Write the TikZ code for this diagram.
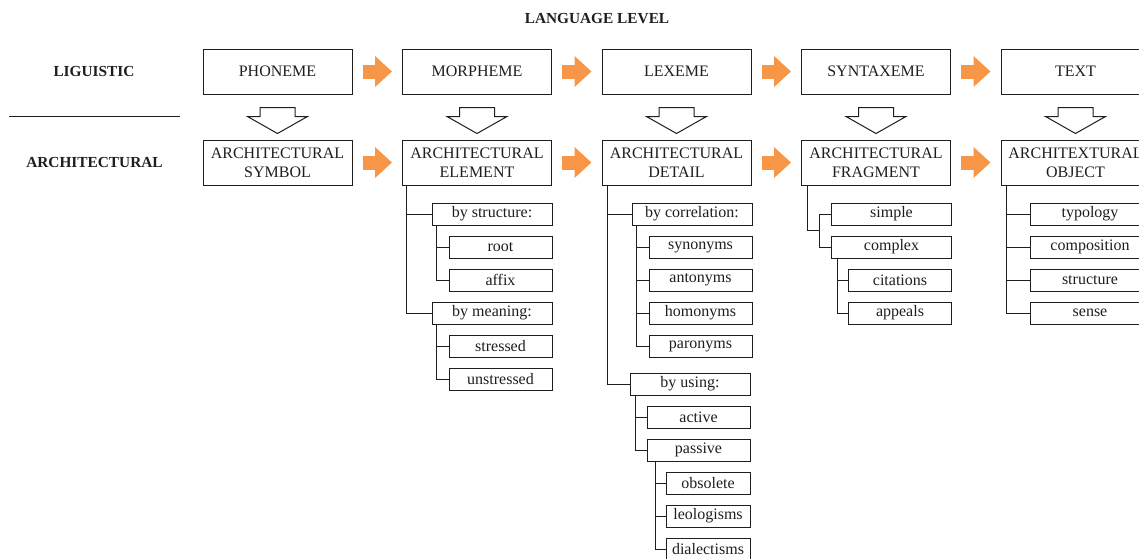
\documentclass[tikz,border=0pt]{standalone}
\usepackage{fontspec}
\setmainfont{Liberation Serif}
\usetikzlibrary{arrows.meta, positioning, calc}
\definecolor{orangeA}{RGB}{247,150,70}
\definecolor{inkA}{RGB}{30,30,30}

\begin{document}
\begin{tikzpicture}[
  x=0.75pt, y=-0.75pt,
  every node/.style={text=inkA, font=\fontsize{12}{14.5}\selectfont},
  lvl/.style={font=\fontsize{11.5}{13}\selectfont\bfseries},
  box/.style={rectangle, draw=inkA, line width=0.75pt, inner sep=0pt, align=center, minimum width=111.75pt, minimum height=33.75pt},
  grp/.style={rectangle, draw=inkA, line width=0.75pt, inner sep=0pt, minimum width=90pt, minimum height=16.5pt},
  item/.style={grp, minimum width=77.25pt},
  leaf/.style={grp, minimum width=63pt},
  tree/.style={draw=inkA, line width=0.75pt},
  flow/.style={draw=orangeA, line width=10.5pt, -{Triangle[length=12.75pt, width=22.5pt]}},
  hollow/.style={draw=inkA, line width=0.75pt, fill=white, line join=miter}
]
\useasboundingbox (0,0) rectangle (1139,558);
\clip (0,0) rectangle (1139,558);

% Headings
\node[lvl] (title) at (597,19) {LANGUAGE LEVEL};
\node[lvl] (ling) at (94,71) {LIGUISTIC};
\node[lvl] (arch) at (94.5,162) {ARCHITECTURAL};
\draw[tree] (9,116) -- (180,116);

% Linguistic level
\node[box] (phon) at (277.5,71.5) {PHONEME};
\node[box] (morph) at (477,71.5) {MORPHEME};
\node[box] (lex) at (676.5,71.5) {LEXEME};
\node[box] (synt) at (876,71.5) {SYNTAXEME};
\node[box] (text) at (1075.5,71.5) {TEXT};

% Architectural level
\node[box] (sym) at (277.5,162.5) {ARCHITECTURAL\\SYMBOL};
\node[box] (elem) at (477,162.5) {ARCHITECTURAL\\ELEMENT};
\node[box] (det) at (676.5,162.5) {ARCHITECTURAL\\DETAIL};
\node[box] (frag) at (876,162.5) {ARCHITECTURAL\\FRAGMENT};
\node[box] (obj) at (1075.5,162.5) {ARCHITEXTURAL\\OBJECT};

% Orange arrows
\draw[flow] ($(phon.east)+(10,0)$) -- ($(morph.west)+(-10,0)$);
\draw[flow] ($(morph.east)+(10,0)$) -- ($(lex.west)+(-10,0)$);
\draw[flow] ($(lex.east)+(10,0)$) -- ($(synt.west)+(-10,0)$);
\draw[flow] ($(synt.east)+(10,0)$) -- ($(text.west)+(-10,0)$);
\draw[flow] ($(sym.east)+(10,0)$) -- ($(elem.west)+(-10,0)$);
\draw[flow] ($(elem.east)+(10,0)$) -- ($(det.west)+(-10,0)$);
\draw[flow] ($(det.east)+(10,0)$) -- ($(frag.west)+(-10,0)$);
\draw[flow] ($(frag.east)+(10,0)$) -- ($(obj.west)+(-10,0)$);

% Hollow arrows down
\draw[hollow] ($(phon.south)+(-17.5,13)$) -- ++(35,0) -- ++(0,9) -- ++(12.5,0) -- ($(phon.south)+(0,39)$) -- ++(-30,-17) -- ++(12.5,0) -- cycle;
\draw[hollow] ($(morph.south)+(-17.5,13)$) -- ++(35,0) -- ++(0,9) -- ++(12.5,0) -- ($(morph.south)+(0,39)$) -- ++(-30,-17) -- ++(12.5,0) -- cycle;
\draw[hollow] ($(lex.south)+(-17.5,13)$) -- ++(35,0) -- ++(0,9) -- ++(12.5,0) -- ($(lex.south)+(0,39)$) -- ++(-30,-17) -- ++(12.5,0) -- cycle;
\draw[hollow] ($(synt.south)+(-17.5,13)$) -- ++(35,0) -- ++(0,9) -- ++(12.5,0) -- ($(synt.south)+(0,39)$) -- ++(-30,-17) -- ++(12.5,0) -- cycle;
\draw[hollow] ($(text.south)+(-17.5,13)$) -- ++(35,0) -- ++(0,9) -- ++(12.5,0) -- ($(text.south)+(0,39)$) -- ++(-30,-17) -- ++(12.5,0) -- cycle;

% Element tree
\node[grp] (bystr) at (492,214) {by structure:};
\node[item] (root) at (500.5,247) {root};
\node[item] (affix) at (500.5,280) {affix};
\node[grp] (bymean) at (492,313) {by meaning:};
\node[item] (stress) at (500.5,346) {stressed};
\node[item] (unstress) at (500.5,379) {unstressed};
\draw[tree] ($(elem.south west)+(4,0)$) |- (bystr.west);
\draw[tree] ($(elem.south west)+(4,0)$) |- (bymean.west);
\draw[tree] ($(bystr.south west)+(5,0)$) |- (root.west);
\draw[tree] ($(bystr.south west)+(5,0)$) |- (affix.west);
\draw[tree] ($(bymean.south west)+(5,0)$) |- (stress.west);
\draw[tree] ($(bymean.south west)+(5,0)$) |- (unstress.west);

% Detail tree
\node[grp] (bycorr) at (692,214) {by correlation:};
\node[item] (syn) at (700.5,247) {synonyms};
\node[item] (ant) at (700.5,280) {antonyms};
\node[item] (hom) at (700.5,313) {homonyms};
\node[item] (par) at (700.5,346) {paronyms};
\node[grp] (byuse) at (690,384) {by using:};
\node[item] (act) at (698.5,417) {active};
\node[item] (pas) at (698.5,450) {passive};
\node[leaf] (obs) at (708,483) {obsolete};
\node[leaf] (neo) at (708,516) {leologisms};
\node[leaf] (dial) at (708,549) {dialectisms};
\draw[tree] ($(det.south west)+(6,0)$) |- (bycorr.west);
\draw[tree] ($(det.south west)+(6,0)$) |- (byuse.west);
\draw[tree] ($(bycorr.south west)+(5,0)$) |- (syn.west);
\draw[tree] ($(bycorr.south west)+(5,0)$) |- (ant.west);
\draw[tree] ($(bycorr.south west)+(5,0)$) |- (hom.west);
\draw[tree] ($(bycorr.south west)+(5,0)$) |- (par.west);
\draw[tree] ($(byuse.south west)+(6,0)$) |- (act.west);
\draw[tree] ($(byuse.south west)+(6,0)$) |- (pas.west);
\draw[tree] ($(pas.south west)+(9,0)$) |- (obs.west);
\draw[tree] ($(pas.south west)+(9,0)$) |- (neo.west);
\draw[tree] ($(pas.south west)+(9,0)$) |- (dial.west);

% Fragment tree
\node[grp] (simp) at (891.5,214) {simple};
\node[grp] (comp) at (891.5,247) {complex};
\node[item] (cit) at (900,280) {citations};
\node[item] (app) at (900,313) {appeals};
\draw[tree] (simp.west) -- ++(-12,0) |- (comp.west);
\draw[tree] ($(frag.south west)+(6,0)$) |- ($(simp.west)!0.5!(comp.west)+(-12,0)$);
\draw[tree] ($(comp.south west)+(6,0)$) |- (cit.west);
\draw[tree] ($(comp.south west)+(6,0)$) |- (app.west);

% Object tree
\node[grp] (typ) at (1090,214) {typology};
\node[grp] (cmp) at (1090,247) {composition};
\node[grp] (strc) at (1090,280) {structure};
\node[grp] (sns) at (1090,313) {sense};
\draw[tree] ($(obj.south west)+(6,0)$) |- (typ.west);
\draw[tree] ($(obj.south west)+(6,0)$) |- (cmp.west);
\draw[tree] ($(obj.south west)+(6,0)$) |- (strc.west);
\draw[tree] ($(obj.south west)+(6,0)$) |- (sns.west);

\end{tikzpicture}
\end{document}
